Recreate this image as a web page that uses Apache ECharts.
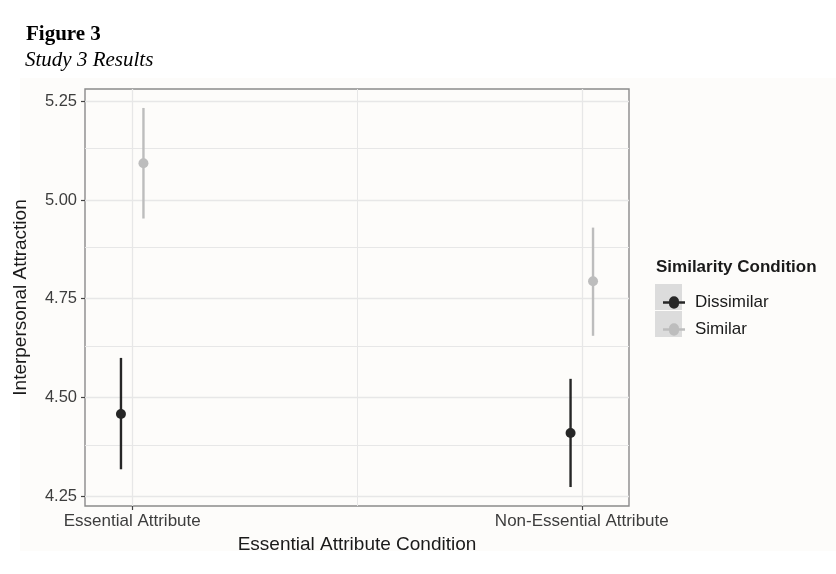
<!DOCTYPE html>
<html>
<head>
<meta charset="utf-8">
<script src="https://cdn.jsdelivr.net/npm/echarts@6/dist/echarts.min.js"></script>
<style>html,body{margin:0;padding:0;background:#fff;}#chart{width:836px;height:574px;}</style>
</head>
<body>
<div id="chart"></div>
<script>
// ---- data ----
const categories = ['Essential Attribute', 'Non-Essential Attribute'];
const categoryPos = [1, 2];
const seriesNames = ['Dissimilar', 'Similar'];
const dissimilarMean = [4.458, 4.410];
const dissimilarLow  = [4.318, 4.273];
const dissimilarHigh = [4.600, 4.547];
const similarMean = [5.093, 4.794];
const similarLow  = [4.953, 4.656];
const similarHigh = [5.233, 4.930];
const yTicks = [4.25, 4.50, 4.75, 5.00, 5.25];
const yMinorBreaks = [4.375, 4.625, 4.875, 5.125];
const xMinorBreaks = [1.5];

// ---- layout / style constants ----
const DODGE = 0.025;
const DARK = '#262626';
const LIGHT = '#bdbdbd';
const GRID_COLOR = '#e7e7e7';
const SANS = '"Liberation Sans", Arial, sans-serif';
const SERIF = '"Liberation Serif", "Times New Roman", serif';

function buildData(sign, mean, low, high) {
  return categoryPos.map((p, i) => [p + sign * DODGE, mean[i], low[i], high[i]]);
}

function makeRender(color) {
  return function (params, api) {
    const x = api.value(0);
    const pM = api.coord([x, api.value(1)]);
    const pLo = api.coord([x, api.value(2)]);
    const pHi = api.coord([x, api.value(3)]);
    return {
      type: 'group',
      children: [
        { type: 'line', shape: { x1: pLo[0], y1: pLo[1], x2: pHi[0], y2: pHi[1] },
          style: { stroke: color, lineWidth: 2.4 } },
        { type: 'circle', shape: { cx: pM[0], cy: pM[1], r: 5 }, style: { fill: color } }
      ]
    };
  };
}

const legendIcon = 'path://M0,5H6A5,5 0 0 1 16,5H22V7.4H16A5,5 0 0 1 6,7.4H0Z';

const gridLineData = []
  .concat(yTicks.map(v => ({ yAxis: v, lineStyle: { width: 1.3 } })))
  .concat(yMinorBreaks.map(v => ({ yAxis: v, lineStyle: { width: 1 } })))
  .concat(categoryPos.map(v => ({ xAxis: v, lineStyle: { width: 1.3 } })))
  .concat(xMinorBreaks.map(v => ({ xAxis: v, lineStyle: { width: 1 } })));

const chart = echarts.init(document.getElementById('chart'), null, { renderer: 'canvas' });
chart.setOption({
  animation: false,
  backgroundColor: '#ffffff',
  title: [
    { text: 'Figure 3', left: 21, top: 19,
      textStyle: { fontFamily: SERIF, fontWeight: 'bold', fontSize: 21, color: '#000' } },
    { text: 'Study 3 Results', left: 20, top: 45,
      textStyle: { fontFamily: SERIF, fontStyle: 'italic', fontWeight: 'normal', fontSize: 21, color: '#000' } }
  ],
  graphic: [
    { type: 'rect', z: -10, silent: true, shape: { x: 20, y: 78, width: 816, height: 473 },
      style: { fill: '#fdfcfa' } },
    { type: 'rect', z: 0, silent: true, shape: { x: 655, y: 284, width: 27, height: 26 },
      style: { fill: '#dcdcdc' } },
    { type: 'rect', z: 0, silent: true, shape: { x: 655, y: 311, width: 27, height: 26 },
      style: { fill: '#dcdcdc' } },
    { type: 'text', z: 5, left: 656, top: 259,
      style: { text: 'Similarity Condition', font: 'bold 17px ' + SANS, fill: '#1a1a1a' } }
  ],
  legend: {
    orient: 'vertical',
    left: 658,
    top: 289,
    itemWidth: 22,
    itemHeight: 12.4,
    itemGap: 10,
    data: [
      { name: 'Dissimilar', icon: legendIcon },
      { name: 'Similar', icon: legendIcon }
    ],
    textStyle: { fontFamily: SANS, fontSize: 17, color: '#1a1a1a', lineHeight: 17, padding: [0, 0, 0, 5] }
  },
  grid: {
    left: 85, top: 89, width: 544, height: 417,
    show: true, borderColor: '#8a8a8a', borderWidth: 1.4, backgroundColor: 'transparent'
  },
  xAxis: {
    type: 'value',
    min: 0.895, max: 2.105,
    name: 'Essential Attribute Condition',
    nameLocation: 'middle',
    nameGap: 29,
    nameTextStyle: { fontFamily: SANS, fontSize: 19, color: '#1a1a1a' },
    axisLine: { show: false },
    splitLine: { show: false },
    axisTick: { show: true, length: 4, customValues: categoryPos, lineStyle: { color: '#444', width: 1.2 } },
    axisLabel: {
      customValues: categoryPos,
      margin: 7,
      fontFamily: SANS, fontSize: 17, color: '#3d3d3d',
      formatter: v => categories[categoryPos.indexOf(v)]
    }
  },
  yAxis: {
    type: 'value',
    min: 4.225, max: 5.281,
    name: 'Interpersonal Attraction',
    nameLocation: 'middle',
    nameGap: 55,
    nameTextStyle: { fontFamily: SANS, fontSize: 19, color: '#1a1a1a' },
    axisLine: { show: false },
    splitLine: { show: false },
    axisTick: { show: true, length: 4, customValues: yTicks, lineStyle: { color: '#444', width: 1.2 } },
    axisLabel: {
      customValues: yTicks,
      margin: 8,
      fontFamily: SANS, fontSize: 16.5, color: '#3d3d3d',
      formatter: v => v.toFixed(2)
    }
  },
  series: [
    {
      name: 'gridlines', type: 'scatter', data: [], silent: true, z: 1,
      markLine: {
        silent: true, symbol: 'none', label: { show: false }, z: 1,
        lineStyle: { color: GRID_COLOR, type: 'solid' },
        emphasis: { disabled: true },
        data: gridLineData
      }
    },
    {
      name: seriesNames[0], type: 'custom', z: 3,
      color: DARK, itemStyle: { color: DARK },
      renderItem: makeRender(DARK),
      encode: { x: 0, y: [1, 2, 3] },
      data: buildData(-1, dissimilarMean, dissimilarLow, dissimilarHigh)
    },
    {
      name: seriesNames[1], type: 'custom', z: 3,
      color: LIGHT, itemStyle: { color: LIGHT },
      renderItem: makeRender(LIGHT),
      encode: { x: 0, y: [1, 2, 3] },
      data: buildData(1, similarMean, similarLow, similarHigh)
    }
  ]
});
</script>
</body>
</html>
